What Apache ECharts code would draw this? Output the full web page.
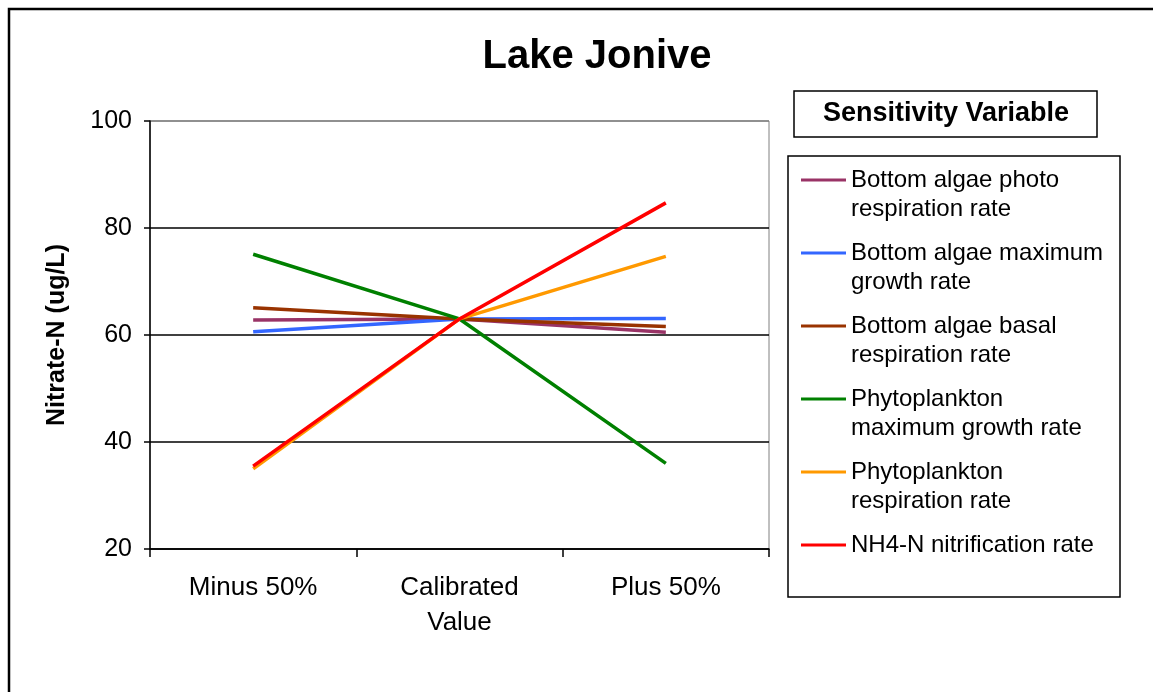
<!DOCTYPE html>
<html>
<head>
<meta charset="utf-8">
<script src="https://cdn.jsdelivr.net/npm/echarts@6/dist/echarts.min.js"></script>
<style>
html,body{margin:0;padding:0;background:#fff;}
#chart{width:1153px;height:692px;}
</style>
</head>
<body>
<div id="chart"></div>
<script>
const categories = ['Minus 50%', 'Calibrated\nValue', 'Plus 50%'];
const seriesNames = [
  'Bottom algae photo\nrespiration rate',
  'Bottom algae maximum\ngrowth rate',
  'Bottom algae basal\nrespiration rate',
  'Phytoplankton\nmaximum growth rate',
  'Phytoplankton\nrespiration rate',
  'NH4-N nitrification rate'
];
const photoResp = [62.8, 63.0, 60.5];
const maxGrowth = [60.6, 63.0, 63.1];
const basalResp = [65.1, 63.0, 61.6];
const phytoGrowth = [75.1, 63.0, 36.0];
const phytoResp = [35.0, 63.0, 74.7];
const nitrification = [35.5, 63.0, 84.7];
const yTicks = [20, 40, 60, 80, 100];

const seriesValues = [photoResp, maxGrowth, basalResp, phytoGrowth, phytoResp, nitrification];
const colors = ['#993366', '#3366FF', '#993300', '#008000', '#FF9900', '#FF0000'];
const FONT = 'Liberation Sans, Arial, sans-serif';

const chart = echarts.init(document.getElementById('chart'));
chart.setOption({
  animation: false,
  backgroundColor: '#fff',
  title: {
    text: 'Lake Jonive',
    left: 592, top: 32, textAlign: 'center',
    textStyle: { fontFamily: FONT, fontSize: 40, fontWeight: 'bold', color: '#000' }
  },
  graphic: [
    { type: 'rect', shape: { x: 9, y: 9, width: 1160, height: 700 },
      style: { fill: 'none', stroke: '#000', lineWidth: 2.5 } },
    { type: 'rect', shape: { x: 794, y: 91, width: 303, height: 46 },
      style: { fill: '#fff', stroke: '#000', lineWidth: 1.5 } },
    { type: 'text', x: 946, y: 114,
      style: { text: 'Sensitivity Variable', fontFamily: FONT, fontSize: 27, fontWeight: 'bold', fill: '#000',
               align: 'center', verticalAlign: 'middle' } },
    { type: 'rect', shape: { x: 788, y: 156, width: 332, height: 441 },
      style: { fill: '#fff', stroke: '#000', lineWidth: 1.5 }, z: -1 }
  ],
  legend: {
    orient: 'vertical',
    left: 801, top: 136.5,
    padding: 0,
    itemGap: -14,
    itemWidth: 45, itemHeight: 3,
    icon: 'rect',
    data: seriesNames,
    formatter: function (name) {
      return name.indexOf('\n') >= 0 ? '\n' + name : '\n' + name + '\n';
    },
    textStyle: { fontFamily: FONT, fontSize: 24, color: '#000', lineHeight: 29 },
    selectedMode: false
  },
  grid: { left: 150, top: 121, width: 619, height: 428, show: true, borderColor: '#808080', borderWidth: 1 },
  xAxis: {
    type: 'category', data: categories, boundaryGap: true,
    axisLine: { lineStyle: { color: '#000', width: 1.5 } },
    axisTick: { show: true, length: 8, alignWithLabel: false, lineStyle: { color: '#000', width: 1.5 } },
    axisLabel: { fontFamily: FONT, fontSize: 26, color: '#000', margin: 21, lineHeight: 35 }
  },
  yAxis: {
    type: 'value', min: 20, max: 100, interval: 20,
    name: 'Nitrate-N (ug/L)', nameLocation: 'middle', nameGap: 80,
    nameTextStyle: { fontFamily: FONT, fontSize: 25, fontWeight: 'bold', color: '#000' },
    axisLine: { show: true, lineStyle: { color: '#000', width: 1.5 } },
    axisTick: { show: true, length: 6, lineStyle: { color: '#000', width: 1.5 } },
    axisLabel: { fontFamily: FONT, fontSize: 25, color: '#000', margin: 18 },
    splitLine: { show: true, lineStyle: { color: ['#000', '#000', '#000', '#000', '#808080'], width: 1.5 } }
  },
  series: seriesNames.map((n, i) => ({
    name: n, type: 'line', data: seriesValues[i], symbol: 'none',
    lineStyle: { color: colors[i], width: 3.5 }, itemStyle: { color: colors[i] }
  }))
});
</script>
</body>
</html>
